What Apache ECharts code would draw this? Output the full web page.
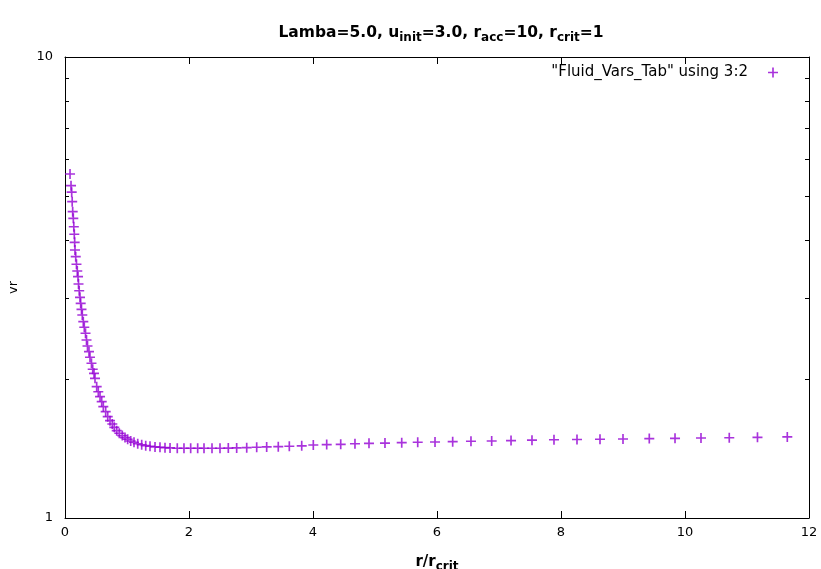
<!DOCTYPE html>
<html><head><meta charset="utf-8">
<script src="https://cdn.jsdelivr.net/npm/echarts@6/dist/echarts.min.js"></script>
<style>html,body{margin:0;padding:0;background:#fff}#c{width:821px;height:569px}</style>
</head><body><div id="c"></div><script>
// r / r_crit (x) values
const rValues = [
  0.081, 0.097, 0.108, 0.116, 0.124, 0.134, 0.142, 0.150, 0.156, 0.161, 0.173, 0.185, 0.198,
  0.210, 0.218, 0.229, 0.242, 0.253, 0.266, 0.279, 0.295, 0.311, 0.331, 0.347, 0.363, 0.387, 0.403, 0.427, 0.447, 0.468, 0.484,
  0.511, 0.537, 0.565, 0.592, 0.618, 0.656, 0.689, 0.726, 0.763, 0.795, 0.834, 0.876, 0.924, 0.968, 1.011, 1.060, 1.113, 1.173, 1.237, 1.302, 1.371, 1.452, 1.532,
  1.613, 1.694, 1.811, 1.919, 2.027, 2.140, 2.242, 2.371, 2.500, 2.634, 2.769, 2.931, 3.092, 3.253, 3.440, 3.618, 3.818,
  4.005, 4.221, 4.447, 4.677, 4.903, 5.161, 5.431, 5.689, 5.968, 6.253, 6.548, 6.882, 7.194, 7.532, 7.887, 8.258, 8.629, 9.000, 9.424, 9.839, 10.258, 10.714, 11.169, 11.650
];
// vr (y) values
const vrValues = [
  5.575, 5.26, 5.09, 4.855, 4.618, 4.468, 4.284, 4.125, 3.963, 3.814, 3.689, 3.551, 3.434,
  3.338, 3.218, 3.112, 3.011, 2.922, 2.836, 2.756, 2.666, 2.593, 2.516, 2.433, 2.361, 2.295, 2.232, 2.166, 2.102, 2.060, 2.009,
  1.927, 1.879, 1.833, 1.788, 1.744, 1.701, 1.659, 1.626, 1.599, 1.573, 1.547, 1.527, 1.509, 1.494, 1.482, 1.469, 1.460, 1.449, 1.442, 1.435, 1.431, 1.426, 1.424,
  1.421, 1.419, 1.417, 1.417, 1.417, 1.417, 1.417, 1.417, 1.417, 1.418, 1.419, 1.421, 1.424, 1.426, 1.428, 1.431, 1.434,
  1.440, 1.443, 1.445, 1.449, 1.452, 1.454, 1.457, 1.460, 1.462, 1.464, 1.467, 1.469, 1.472, 1.475, 1.478, 1.480, 1.482, 1.484, 1.487, 1.489, 1.491, 1.493, 1.496, 1.499
];
const xMin = 0, xMax = 12, xStep = 2;
const yMin = 1, yMax = 10;
const yLabelValues = [1, 10];
const yTickValues = [1, 2, 3, 4, 5, 6, 7, 8, 9, 10];
const seriesName = '"Fluid_Vars_Tab" using 3:2';

const PLUS = 'path://M3.75,0H5.25V3.75H9V5.25H5.25V9H3.75V5.25H0V3.75H3.75Z';
const PURPLE = '#9400d3';
const FONT = 'DejaVu Sans';

const chart = echarts.init(document.getElementById('c'), null, {renderer: 'canvas'});

const xCommon = {
  type: 'value', min: xMin, max: xMax, interval: xStep,
  axisLine: {show: true, onZero: false, lineStyle: {color: '#000', width: 1}},
  axisTick: {show: true, inside: true, length: 7, lineStyle: {color: '#000'}},
  splitLine: {show: false}
};
const yCommon = {
  type: 'log', logBase: 10, min: yMin, max: yMax,
  axisLine: {show: true, onZero: false, lineStyle: {color: '#000', width: 1}},
  axisTick: {show: true, inside: true, length: 4, customValues: yTickValues, lineStyle: {color: '#000'}},
  minorTick: {show: false},
  splitLine: {show: false}
};

chart.setOption({
  backgroundColor: '#fff',
  animation: false,
  title: {
    text: '{a|Lamba=5.0, u}{s|init}{a|=3.0, r}{s|acc}{a|=10, r}{s|crit}{a|=1}',
    left: 436, top: 16, textAlign: 'center',
    textStyle: {
      rich: {
        a: {fontFamily: FONT, fontWeight: 'bold', fontSize: 15.5, color: '#000', lineHeight: 24},
        s: {fontFamily: FONT, fontWeight: 'bold', fontSize: 12, color: '#000', padding: [10, 0, 0, 0], lineHeight: 24}
      }
    }
  },
  legend: {
    data: [seriesName],
    right: 38, top: 60,
    align: 'right',
    icon: PLUS,
    itemWidth: 10, itemHeight: 10,
    textStyle: {fontFamily: FONT, fontSize: 15, color: '#000', padding: [0, 15, 0, 0]}
  },
  grid: {left: 65, right: 12, top: 57, bottom: 51, containLabel: false, outerBoundsMode: 'none'},
  xAxis: [
    Object.assign({}, xCommon, {
      position: 'bottom',
      axisLabel: {show: true, color: '#000', fontFamily: FONT, fontSize: 13, margin: 8},
      name: '{a|r/r}{s|crit}',
      nameLocation: 'middle', nameGap: 33,
      nameTextStyle: {
        rich: {
          a: {fontFamily: FONT, fontWeight: 'bold', fontSize: 15, color: '#000', lineHeight: 22},
          s: {fontFamily: FONT, fontWeight: 'bold', fontSize: 12, color: '#000', padding: [10, 0, 0, 0], lineHeight: 22}
        }
      }
    }),
    Object.assign({}, xCommon, {position: 'top', axisLabel: {show: false}})
  ],
  yAxis: [
    Object.assign({}, yCommon, {
      position: 'left',
      axisLabel: {show: true, customValues: yLabelValues, color: '#000', fontFamily: FONT, fontSize: 13, margin: 12},
      name: 'vr', nameLocation: 'middle', nameGap: 45, nameRotate: 90,
      nameTextStyle: {fontFamily: FONT, fontSize: 13, color: '#000'}
    }),
    Object.assign({}, yCommon, {position: 'right', axisLabel: {show: false}})
  ],
  series: [{
    name: seriesName,
    type: 'scatter',
    xAxisIndex: 0, yAxisIndex: 0,
    symbol: PLUS,
    symbolSize: 10,
    itemStyle: {color: PURPLE, opacity: 0.8},
    data: rValues.map((r, i) => [r, vrValues[i]])
  }]
});
</script></body></html>
